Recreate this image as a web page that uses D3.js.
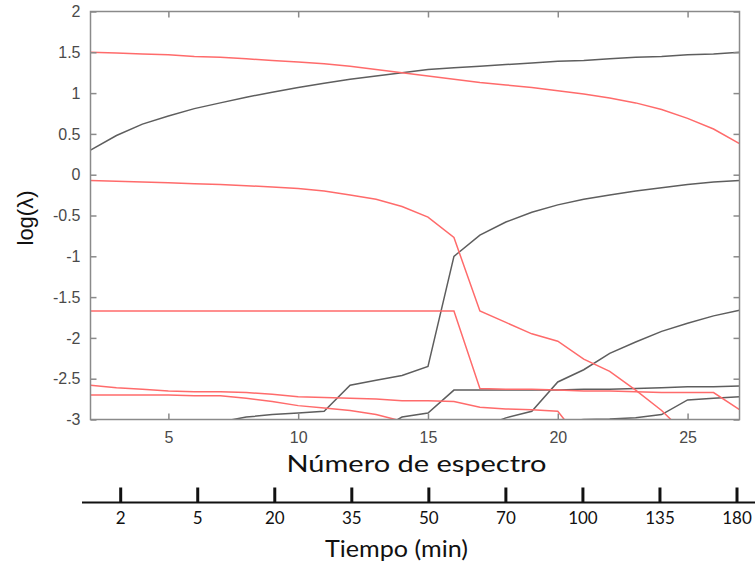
<!DOCTYPE html>
<html lang="es">
<head>
<meta charset="UTF-8">
<title>log(λ) vs número de espectro</title>
<style>
  * { margin: 0; padding: 0; }
  body { background: #fff; }
  svg { display: block; }
</style>
</head>
<body>
<div id="container"></div>
<script src="https://cdn.jsdelivr.net/npm/d3@7"></script>
<script>
// número de espectro (eje x)
var espectro = [2,3,4,5,6,7,8,9,10,11,12,13,14,15,16,17,18,19,20,21,22,23,24,25,26,27];

// curvas rojas
var rojo1 = [1.50,1.49,1.48,1.47,1.45,1.44,1.42,1.40,1.38,1.36,1.33,1.29,1.25,1.21,1.17,1.13,1.10,1.07,1.03,0.99,0.94,0.88,0.80,0.69,0.56,0.38];
var rojo2 = [-0.07,-0.08,-0.09,-0.10,-0.11,-0.12,-0.135,-0.15,-0.17,-0.20,-0.25,-0.30,-0.39,-0.52,-0.77,-1.67,-1.81,-1.95,-2.04,-2.26,-2.41,-2.64,-2.89,-3.2,null,null];
var rojo3 = [-1.67,-1.67,-1.67,-1.67,-1.67,-1.67,-1.67,-1.67,-1.67,-1.67,-1.67,-1.67,-1.67,-1.67,-1.67,-2.62,-2.63,-2.63,-2.64,-2.65,-2.65,-2.66,-2.67,-2.67,-2.67,-2.88];
var rojo4 = [-2.58,-2.61,-2.63,-2.65,-2.66,-2.66,-2.67,-2.69,-2.72,-2.73,-2.74,-2.75,-2.77,-2.77,-2.78,-2.85,-2.87,-2.88,-2.90,-3.3,null,null,null,null,null,null];
var rojo5 = [-2.70,-2.70,-2.70,-2.70,-2.71,-2.71,-2.74,-2.78,-2.83,-2.86,-2.89,-2.94,-3.02,null,null,null,null,null,null,null,null,null,null,null,null,null];

// curvas grises
var gris1 = [0.30,0.48,0.62,0.72,0.81,0.88,0.95,1.01,1.07,1.12,1.17,1.21,1.25,1.29,1.31,1.33,1.35,1.37,1.39,1.40,1.42,1.44,1.45,1.47,1.48,1.50];
var gris2 = [null,null,null,null,null,-3.03,-2.97,-2.94,-2.92,-2.90,-2.58,-2.52,-2.46,-2.35,-1.00,-0.74,-0.58,-0.46,-0.37,-0.30,-0.25,-0.20,-0.16,-0.12,-0.09,-0.07];
var gris3 = [null,null,null,null,null,null,null,null,null,null,null,-3.15,-2.97,-2.92,-2.64,-2.64,-2.64,-2.64,-2.64,-2.63,-2.63,-2.62,-2.61,-2.60,-2.60,-2.59];
var gris4 = [null,null,null,null,null,null,null,null,null,null,null,null,null,null,null,-3.1,-2.98,-2.90,-2.54,-2.39,-2.19,-2.05,-1.92,-1.82,-1.73,-1.66];
var gris5 = [null,null,null,null,null,null,null,null,null,null,null,null,null,null,null,null,null,null,-3.03,-3.00,-2.995,-2.98,-2.94,-2.76,-2.74,-2.72];

// ticks
var xTicks = [5,10,15,20,25];
var yTicks = [-3,-2.5,-2,-1.5,-1,-0.5,0,0.5,1,1.5,2];
var tiempo = ['2','5','20','35','50','70','100','135','180'];

var W = 755, H = 565;
var svg = d3.select('#container').append('svg').attr('width', W).attr('height', H);
svg.append('rect').attr('width', W).attr('height', H).attr('fill', '#fff');

var x = d3.scaleLinear().domain([2, 27]).range([90.5, 739.5]);
var y = d3.scaleLinear().domain([-3, 2]).range([419.5, 11.5]);

svg.append('clipPath').attr('id', 'clip')
  .append('rect')
  .attr('x', x(2)).attr('y', y(2))
  .attr('width', x(27) - x(2)).attr('height', y(-3) - y(2));

var line = d3.line()
  .defined(function (d) { return d[1] != null; })
  .x(function (d) { return x(d[0]); })
  .y(function (d) { return y(d[1]); });

function pares(serie) {
  return espectro.map(function (e, i) { return [e, serie[i]]; });
}

var curvas = svg.append('g').attr('clip-path', 'url(#clip)');
[gris1, gris2, gris3, gris4, gris5].forEach(function (s) {
  curvas.append('path').datum(pares(s))
    .attr('d', line).attr('fill', 'none')
    .attr('stroke', '#5e5e5e').attr('stroke-width', 1.5);
});
[rojo1, rojo2, rojo3, rojo4, rojo5].forEach(function (s) {
  curvas.append('path').datum(pares(s))
    .attr('d', line).attr('fill', 'none')
    .attr('stroke', '#ff6b6b').attr('stroke-width', 1.5);
});

// caja y ejes
var ejeColor = '#8a8a8a';
function estilo(g) {
  g.select('.domain').remove();
  g.selectAll('.tick line').attr('stroke', ejeColor).attr('stroke-width', 1.5);
  g.selectAll('.tick text').attr('fill', '#4a4a4a')
    .style('font-family', '"Liberation Sans", Arial, sans-serif').style('font-size', '16px');
}

svg.append('g').attr('transform', 'translate(0,' + y(-3) + ')')
  .call(d3.axisBottom(x).tickValues(xTicks).tickSize(-6).tickPadding(12))
  .call(estilo);
svg.append('g').attr('transform', 'translate(0,' + y(2) + ')')
  .call(d3.axisTop(x).tickValues(xTicks).tickSize(-6).tickFormat(''))
  .call(estilo);
svg.append('g').attr('transform', 'translate(' + x(2) + ',0)')
  .call(d3.axisLeft(y).tickValues(yTicks).tickSize(-6).tickPadding(10)
    .tickFormat(function (d) { return String(d); }))
  .call(estilo);
svg.append('g').attr('transform', 'translate(' + x(27) + ',0)')
  .call(d3.axisRight(y).tickValues(yTicks).tickSize(-6).tickFormat(''))
  .call(estilo);

svg.append('rect')
  .attr('x', x(2)).attr('y', y(2))
  .attr('width', x(27) - x(2)).attr('height', y(-3) - y(2))
  .attr('fill', 'none').attr('stroke', ejeColor).attr('stroke-width', 1.5);

// etiquetas
svg.append('text')
  .attr('transform', 'translate(33,218) rotate(-90)')
  .attr('text-anchor', 'middle')
  .style('font-family', '"Liberation Sans", Arial, sans-serif')
  .style('font-size', '22px')
  .attr('fill', '#111')
  .text('log(λ)');

svg.append('text')
  .attr('x', 416.5).attr('y', 471.5)
  .attr('text-anchor', 'middle')
  .attr('textLength', 260).attr('lengthAdjust', 'spacingAndGlyphs')
  .style('font-family', 'Lato, "Open Sans", sans-serif')
  .style('font-size', '23px')
  .attr('fill', '#111')
  .text('Número de espectro');

// segundo eje: tiempo
var t = d3.scalePoint().domain(tiempo).range([120.7, 737]);
var ejeT = svg.append('g').attr('transform', 'translate(0,502.5)');
ejeT.append('line').attr('x1', 82).attr('x2', W).attr('stroke', '#111').attr('stroke-width', 2);
ejeT.selectAll('line.tick').data(tiempo).enter().append('line')
  .attr('class', 'tick')
  .attr('x1', function (d) { return t(d); }).attr('x2', function (d) { return t(d); })
  .attr('y1', 0).attr('y2', -15)
  .attr('stroke', '#111').attr('stroke-width', 3);
ejeT.selectAll('text').data(tiempo).enter().append('text')
  .attr('x', function (d) { return t(d); }).attr('y', 21)
  .attr('text-anchor', 'middle')
  .style('font-family', 'Lato, "Open Sans", sans-serif')
  .style('font-size', '17px')
  .attr('fill', '#111')
  .text(function (d) { return d; });

svg.append('text')
  .attr('x', 396.5).attr('y', 557)
  .attr('text-anchor', 'middle')
  .attr('textLength', 143).attr('lengthAdjust', 'spacingAndGlyphs')
  .style('font-family', 'Lato, "Open Sans", sans-serif')
  .style('font-size', '23px')
  .attr('fill', '#111')
  .text('Tiempo (min)');
</script>
</body>
</html>
